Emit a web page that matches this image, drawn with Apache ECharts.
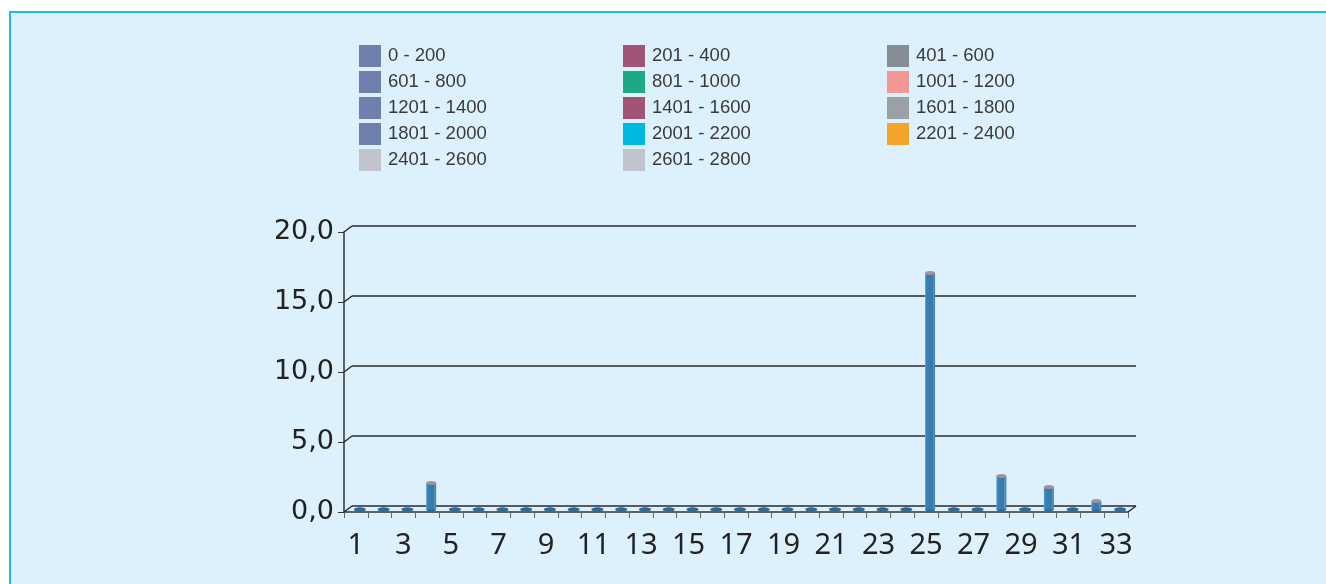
<!DOCTYPE html>
<html>
<head>
<meta charset="utf-8">
<script src="https://cdn.jsdelivr.net/npm/echarts@6/dist/echarts.min.js"></script>
<style>
html,body{margin:0;padding:0;background:#ffffff;overflow:hidden;}
#panel{position:absolute;left:9px;top:11px;width:1400px;height:700px;background:#dcf1fc;border-left:2px solid #1cb9ec;border-top:2px solid #1cb9ec;}
#chart{position:absolute;left:0;top:0;width:1326px;height:584px;}
</style>
</head>
<body>
<div id="panel"></div>
<div id="chart"></div>
<script>
// ---- data ----
const categories = ['1','2','3','4','5','6','7','8','9','10','11','12','13','14','15','16','17','18','19','20','21','22','23','24','25','26','27','28','29','30','31','32','33'];
const values = [0,0,0,1.9,0,0,0,0,0,0,0,0,0,0,0,0,0,0,0,0,0,0,0,0,16.9,0,0,2.4,0,1.6,0,0.6,0];
const yTicks = [0,5,10,15,20];
const legendCol1 = ['0 - 200','601 - 800','1201 - 1400','1801 - 2000','2401 - 2600'];
const legendCol2 = ['201 - 400','801 - 1000','1401 - 1600','2001 - 2200','2601 - 2800'];
const legendCol3 = ['401 - 600','1001 - 1200','1601 - 1800','2201 - 2400'];
const legendColors1 = ['#6f7fae','#6f7fae','#6f7fae','#6f7fae','#c1c4cc'];
const legendColors2 = ['#a15476','#1ea985','#a15476','#00b9e2','#c1c4cc'];
const legendColors3 = ['#878d94','#f29793','#9aa0a6','#f5a42a'];

// ---- style constants ----
const DX = 8, DY = -6;          // depth offset of the back wall
const legendStyle = {fontFamily:'Liberation Sans', fontSize:18.5, color:'#3a3a3a', padding:[0,0,0,2]};

const legendSeries = [];
function addLegend(names, colors){
  names.forEach((n,i)=>legendSeries.push({name:n,type:'line',data:[],color:colors[i],xAxisIndex:0,yAxisIndex:0}));
}
addLegend(legendCol1, legendColors1);
addLegend(legendCol2, legendColors2);
addLegend(legendCol3, legendColors3);

function mkLegend(left, names){
  return {orient:'vertical',left:left,top:45,itemWidth:22,itemHeight:22,itemGap:4,
    icon:'rect',selectedMode:false,data:names,textStyle:legendStyle,padding:0};
}

const chart = echarts.init(document.getElementById('chart'), null, {renderer:'canvas'});
const option = {
  animation:false,
  legend:[mkLegend(359,legendCol1),mkLegend(623,legendCol2),mkLegend(887,legendCol3)],
  grid:[
    {left:344, top:232, width:784, height:280},
    {left:344+DX, top:232+DY, width:784, height:280}
  ],
  xAxis:[
    {type:'category',gridIndex:0,data:categories,boundaryGap:true,
     axisLine:{lineStyle:{color:'#333',width:1.5}},
     axisTick:{show:true,interval:0,length:6,lineStyle:{color:'#666'}},
     axisLabel:{interval:1,margin:19,fontFamily:'Noto Sans',fontSize:29,color:'#222'}},
    {type:'category',gridIndex:1,data:categories,show:false}
  ],
  yAxis:[
    {type:'value',gridIndex:0,min:0,max:20,interval:5,
     axisLine:{show:true,lineStyle:{color:'#333',width:1.5}},
     axisTick:{show:true,length:6,lineStyle:{color:'#333'}},
     splitLine:{show:false},
     axisLabel:{margin:10,fontFamily:'DejaVu Sans',fontSize:27,color:'#222',
       formatter:v=>v.toFixed(1).replace('.',',')}},
    {type:'value',gridIndex:1,min:0,max:20,interval:5,
     axisLine:{show:false},axisTick:{show:false},axisLabel:{show:false},
     splitLine:{show:true,lineStyle:{color:'#2a2a2a',width:1.5}}}
  ],
  series:[
    ...legendSeries,
    {
      type:'custom',xAxisIndex:0,yAxisIndex:0,silent:true,z:1,
      data:yTicks.map(v=>[0,v]),
      renderItem:function(params,api){
        const cs = params.coordSys;
        const y = api.coord([0,api.value(1)])[1];
        const children = [{type:'line',shape:{x1:cs.x,y1:y,x2:cs.x+DX,y2:y+DY},style:{stroke:'#2a2a2a',lineWidth:1.5}}];
        if(api.value(1)===0){
          children.push({type:'line',shape:{x1:cs.x+cs.width,y1:y,x2:cs.x+cs.width+DX,y2:y+DY},style:{stroke:'#2a2a2a',lineWidth:1.5}});
        }
        return {type:'group',children:children};
      }
    },
    {
      type:'custom',xAxisIndex:0,yAxisIndex:0,silent:true,z:3,
      data:values.map((v,i)=>[i,v]),
      renderItem:function(params,api){
        const i = api.value(0), v = api.value(1);
        const base = api.coord([i,0]);
        const top = api.coord([i,v]);
        const cx = base[0] + DX/2, by = base[1] + DY/2 + 0.5, ty = top[1] + DY/2 + 0.5;
        const w = 10;
        const ch = [];
        if(v>0){
          ch.push({type:'ellipse',shape:{cx:cx,cy:by,rx:w/2,ry:2},style:{fill:'#2c6a98'}});
          ch.push({type:'rect',shape:{x:cx-w/2,y:ty,width:w,height:by-ty},
            style:{fill:new echarts.graphic.LinearGradient(0,0,1,0,[
              {offset:0,color:'#69a6d0'},{offset:0.15,color:'#3a80b2'},
              {offset:0.75,color:'#3479aa'},{offset:0.8,color:'#5a98c6'},{offset:1,color:'#3a7aa8'}])}});
          ch.push({type:'ellipse',shape:{cx:cx,cy:ty,rx:w/2,ry:2},style:{fill:'#a4929a'}});
        } else {
          ch.push({type:'ellipse',shape:{cx:cx,cy:by,rx:6,ry:2.2},style:{fill:'#2f6a94'}});
        }
        return {type:'group',children:ch};
      }
    }
  ]
};
chart.setOption(option);
</script>
</body>
</html>
